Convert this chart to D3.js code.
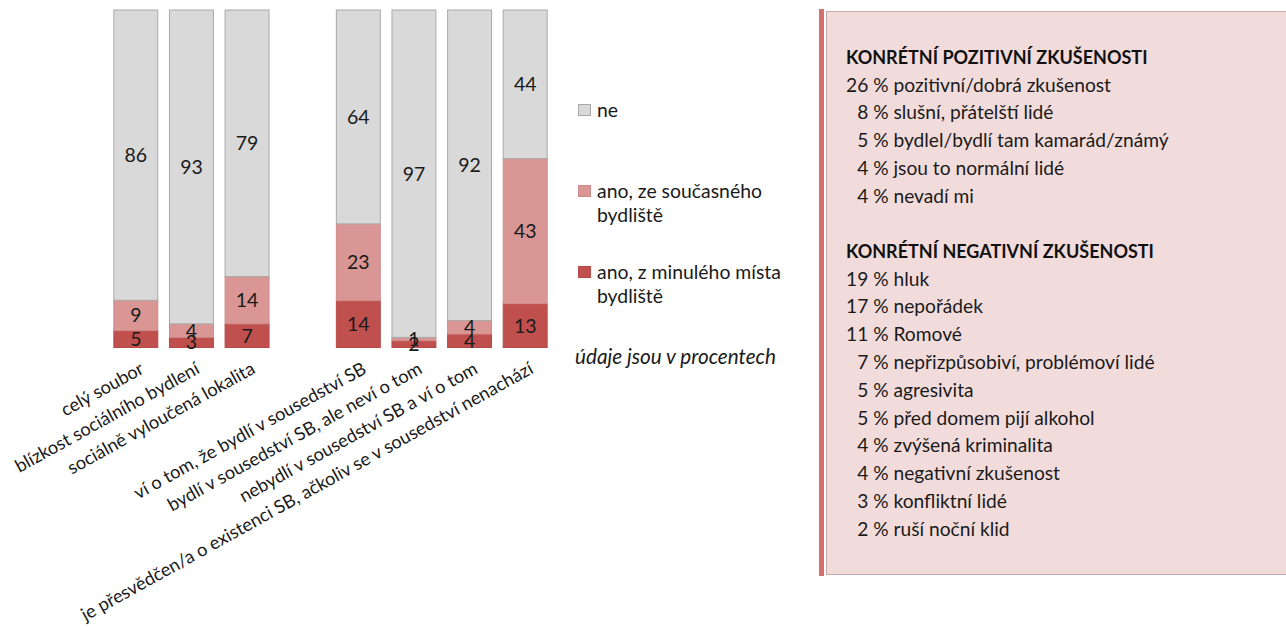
<!DOCTYPE html>
<html>
<head>
<meta charset="utf-8">
<script src="https://cdn.jsdelivr.net/npm/d3@7"></script>
<style>
  body { margin: 0; background: #fff; }
  svg { display: block; font-family: Lato, "Open Sans", sans-serif; }
</style>
</head>
<body>
<div id="chart"></div>
<script>
// categories (the empty one is the gap between the two groups)
var categories = ["celý soubor", "blízkost sociálního bydlení", "sociálně vyloučená lokalita", "",
  "ví o tom, že bydlí v sousedství SB", "bydlí v sousedství SB, ale neví o tom",
  "nebydlí v sousedství SB a ví o tom", "je přesvědčen/a o existenci SB, ačkoliv se v sousedství nenachází"];

// series values (percent)
var minule  = [5, 3, 7, null, 14, 2, 4, 13];
var soucasne = [9, 4, 14, null, 23, 1, 4, 43];
var ne      = [86, 93, 79, null, 64, 97, 92, 44];

var seriesNames = ["ano, z minulého místa bydliště", "ano, ze současného bydliště", "ne"];

// right panel texts
var posTitle = "KONRÉTNÍ POZITIVNÍ ZKUŠENOSTI";
var posPct = [26, 8, 5, 4, 4];
var posLabels = ["pozitivní/dobrá zkušenost", "slušní, přátelští lidé", "bydlel/bydlí tam kamarád/známý",
  "jsou to normální lidé", "nevadí mi"];
var negTitle = "KONRÉTNÍ NEGATIVNÍ ZKUŠENOSTI";
var negPct = [19, 17, 11, 7, 5, 5, 4, 4, 3, 2];
var negLabels = ["hluk", "nepořádek", "Romové", "nepřizpůsobiví, problémoví lidé", "agresivita",
  "před domem pijí alkohol", "zvýšená kriminalita", "negativní zkušenost", "konfliktní lidé", "ruší noční klid"];

var W = 1286, H = 631;
var colors = ["#c0504d", "#d99694", "#d9d9d9"];
var strokes = ["#b84a47", "#cf8b89", "#a9a9a9"];

var svg = d3.select("#chart").append("svg")
    .attr("width", W)
    .attr("height", H);

// build rows for the stack
var rows = categories.map(function(c, i) {
  return { cat: c, s0: minule[i], s1: soucasne[i], s2: ne[i] };
}).filter(function(d) { return d.s0 != null; });

var stack = d3.stack()
    .keys(["s0", "s1", "s2"])
    .offset(d3.stackOffsetExpand);
var layers = stack(rows);

var x = d3.scaleBand()
    .domain(categories)
    .range([108, 553])
    .paddingInner(0.21)
    .paddingOuter(0.105);

var y = d3.scaleLinear()
    .domain([0, 1])
    .range([347.5, 10]);

var g = svg.append("g");

var layer = g.selectAll(".layer")
    .data(layers)
  .enter().append("g")
    .attr("class", "layer")
    .attr("fill", function(d, i) { return colors[i]; })
    .attr("stroke", function(d, i) { return strokes[i]; });

layer.selectAll("rect")
    .data(function(d) { return d; })
  .enter().append("rect")
    .attr("x", function(d) { return x(d.data.cat); })
    .attr("width", x.bandwidth())
    .attr("y", function(d) { return y(d[1]); })
    .attr("height", function(d) { return y(d[0]) - y(d[1]); })
    .attr("stroke-width", 1);

// value labels
layers.forEach(function(L, li) {
  g.selectAll(".lab" + li)
      .data(L)
    .enter().append("text")
      .attr("class", "lab" + li)
      .attr("x", function(d) { return x(d.data.cat) + x.bandwidth() / 2; })
      .attr("y", function(d) { return y((d[0] + d[1]) / 2); })
      .attr("dy", "0.36em")
      .attr("text-anchor", "middle")
      .attr("font-size", 19.5)
      .attr("fill", "#1a1a1a")
      .text(function(d) { return d.data[L.key]; });
});

// x axis labels
var xAxis = d3.axisBottom(x).tickSize(0).tickPadding(0);
var ax = svg.append("g")
    .attr("transform", "translate(0,361)")
    .call(xAxis);
ax.select(".domain").remove();
ax.selectAll("text")
    .attr("font-family", "Lato, sans-serif")
    .attr("font-size", 18.2)
    .attr("fill", "#1a1a1a")
    .attr("text-anchor", "end")
    .attr("y", 0)
    .attr("dy", "0.72em")
    .attr("transform", "translate(3,0) rotate(-29)");

// legend
var legend = [
  { name: "ne", lines: ["ne"], y: 117, c: 2 },
  { name: seriesNames[1], lines: ["ano, ze současného", "bydliště"], y: 198, c: 1 },
  { name: seriesNames[0], lines: ["ano, z minulého místa", "bydliště"], y: 279, c: 0 }
];
var lg = svg.append("g");
legend.forEach(function(l) {
  lg.append("rect")
      .attr("x", 578.5).attr("y", l.y - 12.5)
      .attr("width", 12).attr("height", 11)
      .attr("fill", colors[l.c])
      .attr("stroke", strokes[l.c]);
  var t = lg.append("text")
      .attr("x", 597).attr("y", l.y)
      .attr("font-size", 19.4)
      .attr("fill", "#1a1a1a");
  l.lines.forEach(function(s, k) {
    t.append("tspan").attr("x", 597).attr("dy", k ? 24 : 0).text(s);
  });
});
lg.append("text")
    .attr("x", 575).attr("y", 364)
    .attr("font-size", 20.7)
    .attr("font-style", "italic")
    .attr("fill", "#1a1a1a")
    .text("údaje jsou v procentech");

// right panel
var panel = svg.append("g");
panel.append("rect")
    .attr("x", 826.5).attr("y", 11.5)
    .attr("width", 480).attr("height", 563)
    .attr("fill", "#f2dcdb")
    .attr("stroke", "#c4a9a9");
panel.append("rect")
    .attr("x", 819).attr("y", 9)
    .attr("width", 5).attr("height", 567)
    .attr("fill", "#d4716d");

var fs = 19.2;
var probe = panel.append("text").attr("font-size", fs).text("0");
var digitW = probe.node().getComputedTextLength();
probe.remove();

function block(title, pcts, labels, y0) {
  panel.append("text")
      .attr("x", 846).attr("y", y0)
      .attr("font-size", 18)
      .attr("font-weight", "bold")
      .attr("fill", "#111")
      .text(title);
  pcts.forEach(function(p, i) {
    var pad = (2 - String(p).length) * digitW;
    panel.append("text")
        .attr("x", 846 + pad)
        .attr("y", y0 + 27.5 + i * 27.8)
        .attr("font-size", fs)
        .attr("fill", "#1a1a1a")
        .text(p + " % " + labels[i]);
  });
}
block(posTitle, posPct, posLabels, 64);
block(negTitle, negPct, negLabels, 258);
</script>
</body>
</html>
